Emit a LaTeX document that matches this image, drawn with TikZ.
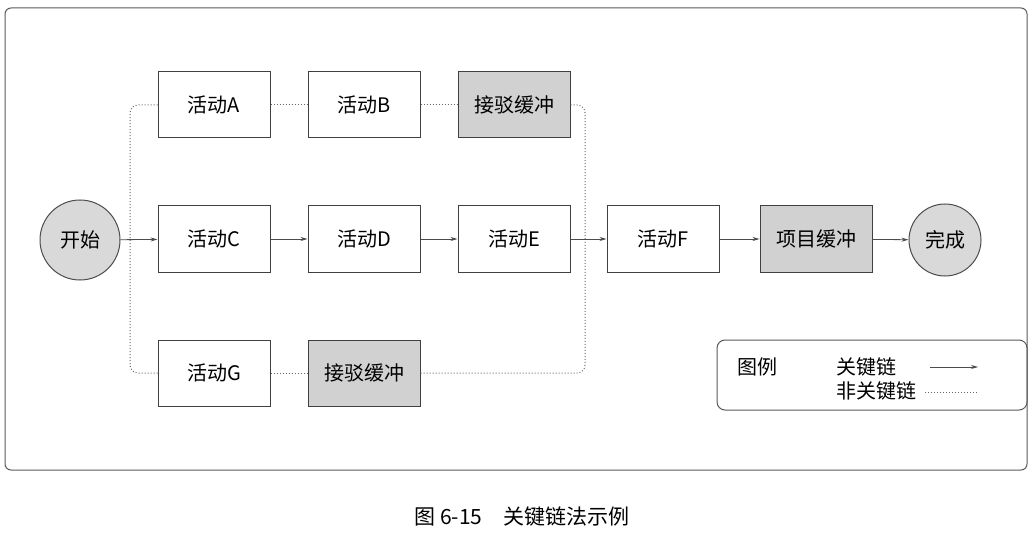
\documentclass[tikz,border=0pt]{standalone}
\usepackage{fontspec}
\setmainfont{Liberation Serif}
\newfontfamily\cjk{Noto Sans CJK SC}
\usetikzlibrary{arrows.meta}
\begin{document}
\begin{tikzpicture}[x=1pt,y=-1pt,font=\cjk\fontsize{20}{24}\selectfont,
 box/.style={draw=black!75,line width=1pt,minimum width=112pt,minimum height=66pt,inner sep=0pt},
 buf/.style={box,fill=black!18},
 circ/.style={draw=black!70,line width=1pt,circle,fill=black!15,inner sep=0pt},
 crit/.style={draw=black!70,line width=0.8pt,-{Stealth[length=7pt,width=4pt]}},
 non/.style={draw=black!60,line width=1pt,dotted,rounded corners=8pt}]
\useasboundingbox (0,0) rectangle (1032,537);
\draw[black!65,line width=1pt,rounded corners=6pt] (5,8) rectangle (1027,470);
\node[circ,minimum size=80pt] (start) at (80,240) {开始};
\node[box] (A) at (214,105) {活动A};
\node[box] (B) at (364,105) {活动B};
\node[buf] (b1) at (514,105) {接驳缓冲};
\node[box] (C) at (214,239) {活动C};
\node[box] (D) at (364,239) {活动D};
\node[box] (E) at (514,239) {活动E};
\node[box] (F) at (663,239) {活动F};
\node[buf] (pb) at (816,239) {项目缓冲};
\node[circ,minimum size=72pt] (done) at (945,240) {完成};
\node[box] (G) at (214,373) {活动G};
\node[buf] (b2) at (364,373) {接驳缓冲};
\coordinate (s1) at (130,240);
\coordinate (m1) at (585,240);
\draw[crit] (start) -- (C);
\draw[crit] (C) -- (D);
\draw[crit] (D) -- (E);
\draw[crit] (E) -- (F);
\draw[crit] (F) -- (pb);
\draw[crit] (pb) -- (done);
\draw[non] (A.west) -| (s1) |- (G.west);
\draw[non] (A) -- (B);
\draw[non] (B) -- (b1);
\draw[non] (G) -- (b2);
\draw[non] (b1.east) -| (m1);
\draw[non] (b2.east) -| (m1);
\draw[black!65,line width=1pt,rounded corners=8pt] (717,340) rectangle (1027,410);
\node (lg) at (757,367) {图例};
\node (k1) at (866,367) {关键链};
\node (k2) at (876,391) {非关键链};
\coordinate (a1) at (930,367); \coordinate (a2) at (978,367);
\coordinate (d1) at (925,392); \coordinate (d2) at (978,392);
\draw[crit] (a1) -- (a2);
\draw[non] (d1) -- (d2);
\node[font=\cjk\fontsize{21}{24}\selectfont] (cap) at (522,517) {图 6-15\quad 关键链法示例};
\end{tikzpicture}
\end{document}
